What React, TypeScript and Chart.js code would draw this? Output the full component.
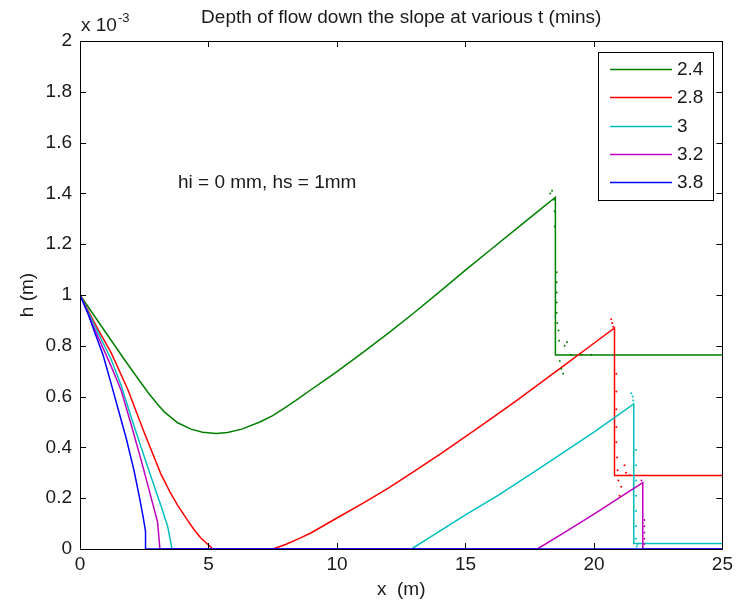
import React, { useEffect, useRef } from "react";
import { Chart, registerables } from "chart.js";

Chart.register(...registerables);

// ---- data (h in units of 1e-3 m) ----
const seriesLabels = ["2.4", "2.8", "3", "3.2", "3.8"];
const seriesColors = ["#008000", "#ff0000", "#00bfbf", "#bf00bf", "#0000ff"];

const xGreen = [0, 0.44, 1.21, 1.7, 2.12, 2.64, 3.0, 3.28, 3.8, 4.32, 4.77, 5.3, 5.74, 6.3, 7, 7.5, 8, 8.5, 9, 9.5, 10, 11, 12, 13, 14, 15, 16, 17, 18, 18.5, 18.5, 25];
const hGreen = [1.0, 0.935, 0.822, 0.75, 0.69, 0.617, 0.572, 0.54, 0.497, 0.472, 0.46, 0.455, 0.459, 0.472, 0.5, 0.525, 0.558, 0.592, 0.628, 0.663, 0.698, 0.773, 0.85, 0.93, 1.013, 1.098, 1.18, 1.262, 1.344, 1.385, 0.764, 0.764];

const xRed = [0, 0.7, 1.21, 1.86, 2.51, 2.85, 3.15, 3.5, 3.8, 4.19, 4.45, 4.7, 5.09, 5.16, 7.5, 8, 8.5, 9, 10, 11, 12, 13, 14, 15, 16, 17, 18, 19, 20, 20.8, 20.8, 25];
const hRed = [1.0, 0.865, 0.773, 0.628, 0.456, 0.37, 0.295, 0.225, 0.172, 0.113, 0.075, 0.043, 0.008, 0, 0, 0.018, 0.04, 0.064, 0.122, 0.18, 0.24, 0.306, 0.373, 0.442, 0.513, 0.585, 0.66, 0.735, 0.81, 0.87, 0.289, 0.289];

const xCyan = [0, 0.7, 1.21, 1.6, 1.99, 2.38, 2.76, 3.15, 3.41, 3.58, 12.9, 15, 16.3, 18, 20, 21.55, 21.55, 25];
const hCyan = [1.0, 0.852, 0.747, 0.645, 0.52, 0.4, 0.285, 0.17, 0.09, 0, 0, 0.134, 0.213, 0.325, 0.46, 0.571, 0.022, 0.022];

const xMagenta = [0, 0.57, 1.21, 1.6, 1.99, 2.38, 2.76, 3.02, 3.11, 17.8, 19, 20, 21.9, 21.9, 25];
const hMagenta = [1.0, 0.865, 0.72, 0.625, 0.49, 0.35, 0.205, 0.105, 0, 0, 0.074, 0.137, 0.261, 0, 0];

const xBlue = [0, 0.3, 0.6, 0.9, 1.2, 1.5, 1.8, 2.1, 2.3, 2.45, 2.55, 2.55, 25];
const hBlue = [1.0, 0.93, 0.845, 0.763, 0.655, 0.545, 0.435, 0.31, 0.21, 0.13, 0.07, 0, 0];

// dotted overshoot traces near the fronts
const xGreenDots = [18.3, 18.37, 18.45, 18.47, 18.47, 18.55, 18.55, 18.55, 18.55, 18.55, 18.57, 18.62, 18.64, 18.67, 18.73, 18.8, 18.86, 18.95, 19.1, 19.5, 19.9];
const hGreenDots = [1.4, 1.41, 1.375, 1.33, 1.27, 1.09, 1.05, 1.01, 0.97, 0.93, 0.89, 0.86, 0.82, 0.74, 0.71, 0.69, 0.8, 0.815, 0.765, 0.765, 0.765];
const xRedDots = [20.67, 20.71, 20.75, 20.87, 20.87, 20.87, 20.87, 20.87, 20.9, 20.92, 20.95, 21.0, 21.06, 21.19, 21.25, 21.4];
const hRedDots = [0.905, 0.89, 0.875, 0.69, 0.62, 0.55, 0.48, 0.42, 0.36, 0.31, 0.27, 0.21, 0.245, 0.33, 0.3, 0.29];
const xCyanDots = [21.45, 21.51, 21.53, 21.64, 21.64, 21.64, 21.64, 21.64, 21.64, 21.64, 21.67, 21.7];
const hCyanDots = [0.613, 0.6, 0.585, 0.39, 0.33, 0.27, 0.21, 0.15, 0.09, 0.04, 0.01, 0.02];
const xMagentaDots = [21.85, 21.96, 21.96, 21.96, 21.96, 21.96];
const hMagentaDots = [0.27, 0.114, 0.09, 0.065, 0.04, 0.02];

const xTicks = [0, 5, 10, 15, 20, 25];
const yTicks = [0, 0.2, 0.4, 0.6, 0.8, 1, 1.2, 1.4, 1.6, 1.8, 2];

const titleText = "Depth of flow down the slope at various t (mins)";
const xTitle = "x  (m)";
const yTitle = "h (m)";
const noteText = "hi = 0 mm, hs = 1mm";

const FONT_FAMILY = '"Liberation Sans", Arial, sans-serif';
const TEXT = "#1a1a1a";

function pts(xs: number[], ys: number[]) {
  return xs.map((x, i) => ({ x, y: ys[i] }));
}

const framePlugin = {
  id: "matlabFrame",
  beforeDraw(chart: any) {
    const ctx = chart.ctx;
    ctx.save();
    ctx.fillStyle = "#ffffff";
    ctx.fillRect(0, 0, chart.width, chart.height);
    ctx.restore();
  },
  afterDatasetsDraw(chart: any) {
    const ctx = chart.ctx;
    const { left, right, top, bottom } = chart.chartArea;
    const xs = chart.scales.x;
    const ys = chart.scales.y;
    ctx.save();
    ctx.strokeStyle = "#000";
    ctx.lineWidth = 1;
    ctx.strokeRect(Math.round(left) + 0.5, Math.round(top) + 0.5, Math.round(right - left), Math.round(bottom - top));
    const tl = 6;
    ctx.beginPath();
    xTicks.forEach((v) => {
      const px = Math.round(xs.getPixelForValue(v)) + 0.5;
      ctx.moveTo(px, bottom);
      ctx.lineTo(px, bottom - tl);
      ctx.moveTo(px, top);
      ctx.lineTo(px, top + tl);
    });
    yTicks.forEach((v) => {
      const py = Math.round(ys.getPixelForValue(v)) + 0.5;
      ctx.moveTo(left, py);
      ctx.lineTo(left + tl, py);
      ctx.moveTo(right, py);
      ctx.lineTo(right - tl, py);
    });
    ctx.stroke();

    // texts
    ctx.fillStyle = TEXT;
    ctx.font = `19px ${FONT_FAMILY}`;
    ctx.textBaseline = "middle";
    ctx.textAlign = "center";
    ctx.fillText(titleText, (left + right) / 2, 18);
    ctx.fillText(xTitle, (left + right) / 2, 590);
    ctx.textAlign = "left";
    ctx.fillText(noteText, 178, 183);
    ctx.textBaseline = "alphabetic";
    ctx.fillText("x 10", 81, 31);
    ctx.font = `13px ${FONT_FAMILY}`;
    ctx.fillText("-3", 118, 22);

    ctx.font = `19px ${FONT_FAMILY}`;
    ctx.save();
    ctx.translate(28, ys.getPixelForValue(1));
    ctx.rotate(-Math.PI / 2);
    ctx.textAlign = "center";
    ctx.textBaseline = "middle";
    ctx.fillText(yTitle, 0, 0);
    ctx.restore();

    // legend
    const lx0 = 598, ly0 = 52, lx1 = 713, ly1 = 200;
    ctx.fillStyle = "#ffffff";
    ctx.fillRect(lx0, ly0, lx1 - lx0, ly1 - ly0);
    ctx.strokeStyle = "#000";
    ctx.strokeRect(lx0 + 0.5, ly0 + 0.5, lx1 - lx0, ly1 - ly0);
    const rowY0 = 69, rowStep = 28.3;
    seriesLabels.forEach((lab, i) => {
      const y = Math.round(rowY0 + i * rowStep) + 0.5;
      ctx.strokeStyle = seriesColors[i];
      ctx.lineWidth = 1.5;
      ctx.beginPath();
      ctx.moveTo(610, y);
      ctx.lineTo(672, y);
      ctx.stroke();
      ctx.fillStyle = TEXT;
      ctx.textAlign = "left";
      ctx.textBaseline = "middle";
      ctx.fillText(lab, 677, y);
    });
    ctx.restore();
  },
};

export default function App() {
  const ref = useRef<HTMLCanvasElement | null>(null);

  useEffect(() => {
    if (!ref.current) return;
    const mainSeries = [
      [xGreen, hGreen],
      [xRed, hRed],
      [xCyan, hCyan],
      [xMagenta, hMagenta],
      [xBlue, hBlue],
    ];
    const dotSeries = [
      [xGreenDots, hGreenDots, 0],
      [xRedDots, hRedDots, 1],
      [xCyanDots, hCyanDots, 2],
      [xMagentaDots, hMagentaDots, 3],
    ];
    const datasets: any[] = [];
    mainSeries.forEach(([xs, ys], i) => {
      datasets.push({
        label: seriesLabels[i],
        data: pts(xs as number[], ys as number[]),
        showLine: true,
        borderColor: seriesColors[i],
        backgroundColor: seriesColors[i],
        borderWidth: 1.5,
        pointRadius: 0,
        tension: 0,
        order: 10 - i,
      });
    });
    dotSeries.forEach(([xs, ys, ci]) => {
      datasets.push({
        label: seriesLabels[ci as number] + " dots",
        data: pts(xs as number[], ys as number[]),
        showLine: false,
        borderColor: seriesColors[ci as number],
        backgroundColor: seriesColors[ci as number],
        borderWidth: 0,
        pointRadius: 1,
        order: 0,
      });
    });

    const chart = new Chart(ref.current, {
      type: "scatter",
      data: { datasets },
      options: {
        animation: false,
        responsive: false,
        devicePixelRatio: 1,
        layout: { padding: { top: 41, right: 12, left: 0, bottom: 0 } },
        plugins: {
          legend: { display: false },
          title: { display: false },
          tooltip: { enabled: false },
        },
        scales: {
          x: {
            type: "linear",
            min: 0,
            max: 25,
            afterBuildTicks: (scale: any) => {
              scale.ticks = xTicks.map((v) => ({ value: v }));
            },
            ticks: {
              color: TEXT,
              font: { family: FONT_FAMILY, size: 19 },
              padding: 4,
              maxRotation: 0,
              callback: (v: any) => String(v),
            },
            grid: { display: false, drawTicks: false },
            border: { display: false },
            afterFit: (scale: any) => {
              scale.height = 59;
            },
          },
          y: {
            type: "linear",
            min: 0,
            max: 2,
            afterBuildTicks: (scale: any) => {
              scale.ticks = yTicks.map((v) => ({ value: v }));
            },
            ticks: {
              color: TEXT,
              font: { family: FONT_FAMILY, size: 19 },
              padding: 8,
              callback: (v: any) => String(Math.round(Number(v) * 10) / 10),
            },
            grid: { display: false, drawTicks: false },
            border: { display: false },
            afterFit: (scale: any) => {
              scale.width = 80;
            },
          },
        },
      },
      plugins: [framePlugin],
    });
    return () => chart.destroy();
  }, []);

  return (
    <div style={{ position: "absolute", left: 0, top: 0, width: 737, height: 608, background: "#fff" }}>
      <canvas ref={ref} width={737} height={608} style={{ display: "block", width: 737, height: 608 }} />
    </div>
  );
}
